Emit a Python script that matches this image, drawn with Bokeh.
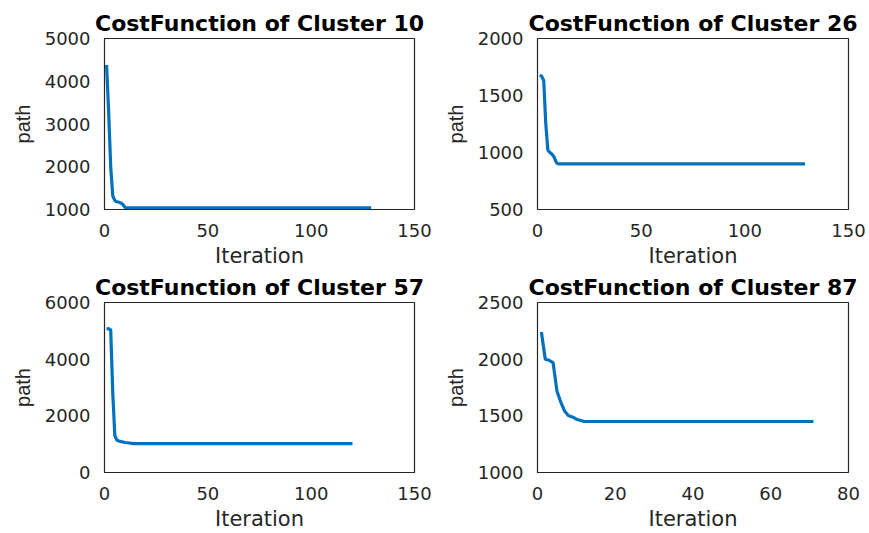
from bokeh.plotting import figure
from bokeh.layouts import gridplot
from bokeh.models import Range1d, FixedTicker
from bokeh.embed import file_html
from bokeh.resources import INLINE

# ---- data ----
titles = ["CostFunction of Cluster 10", "CostFunction of Cluster 26",
          "CostFunction of Cluster 57", "CostFunction of Cluster 87"]

iter_c10 = [1, 2, 3, 4, 5, 6, 7, 8, 9, 10, 11, 129]
cost_c10 = [4380, 3300, 2000, 1320, 1210, 1180, 1170, 1150, 1110, 1045, 1040, 1040]

iter_c26 = [1, 2, 3, 4, 5, 6, 7, 8, 9, 10, 129]
cost_c26 = [1675, 1670, 1630, 1250, 1020, 1000, 985, 960, 915, 900, 900]

iter_c57 = [1, 2, 3, 4, 5, 6, 7, 8, 10, 12, 14, 120]
cost_c57 = [5080, 5070, 5040, 2800, 1300, 1140, 1110, 1090, 1060, 1040, 1020, 1020]

iter_c87 = [1, 2, 3, 4, 5, 6, 7, 8, 9, 10, 12, 71]
cost_c87 = [2240, 2000, 1990, 1970, 1720, 1620, 1540, 1500, 1490, 1470, 1450, 1450]

x_ticks_10 = [0, 50, 100, 150]
y_ticks_10 = [1000, 2000, 3000, 4000, 5000]
x_ticks_26 = [0, 50, 100, 150]
y_ticks_26 = [500, 1000, 1500, 2000]
x_ticks_57 = [0, 50, 100, 150]
y_ticks_57 = [0, 2000, 4000, 6000]
x_ticks_87 = [0, 20, 40, 60, 80]
y_ticks_87 = [1000, 1500, 2000, 2500]

LINE = "#0072BD"
TXT = "#262626"


def panel(title, xs, ys, xt, yt, width, height, left, right, top, bottom):
    p = figure(width=width, height=height, output_backend="svg",
               toolbar_location=None,
               x_range=Range1d(xt[0], xt[-1]), y_range=Range1d(yt[0], yt[-1]),
               min_border_left=left, min_border_right=right,
               min_border_top=top, min_border_bottom=bottom)
    p.line(xs, ys, line_color=LINE, line_width=3.2)
    p.title.text = title
    p.title.align = "center"
    p.title.text_font = "DejaVu Sans"
    p.title.text_font_size = "22px"
    p.title.text_font_style = "bold"
    p.title.text_color = "black"
    p.title.standoff = 5
    p.xgrid.visible = False
    p.ygrid.visible = False
    p.outline_line_color = TXT
    p.outline_line_width = 1.2
    p.outline_line_alpha = 1
    p.xaxis.ticker = FixedTicker(ticks=xt)
    p.yaxis.ticker = FixedTicker(ticks=yt)
    for ax in (p.xaxis[0], p.yaxis[0]):
        ax.major_tick_line_color = None
        ax.minor_tick_line_color = None
        ax.axis_line_color = TXT
        ax.major_label_text_font = "DejaVu Sans"
        ax.major_label_text_font_size = "18px"
        ax.major_label_text_color = TXT
        ax.major_label_standoff = 8
        ax.axis_label_text_color = TXT
        ax.axis_label_text_font_style = "normal"
    p.xaxis.axis_label = "Iteration"
    p.xaxis.axis_label_text_font = "DejaVu Sans"
    p.xaxis.axis_label_text_font_size = "21px"
    p.xaxis.axis_label_standoff = 4
    p.yaxis.axis_label = "path"
    p.yaxis.axis_label_text_font = "Liberation Sans"
    p.yaxis.axis_label_text_font_size = "20px"
    p.yaxis.axis_label_standoff = 8
    p.yaxis.major_label_orientation = "horizontal"
    p.background_fill_color = "white"
    p.border_fill_color = "white"
    return p


p1 = panel(titles[0], iter_c10, cost_c10, x_ticks_10, y_ticks_10, 434, 270, 104, 20, 38, 60)
p2 = panel(titles[1], iter_c26, cost_c26, x_ticks_26, y_ticks_26, 435, 270, 103, 21, 38, 60)
p3 = panel(titles[2], iter_c57, cost_c57, x_ticks_57, y_ticks_57, 434, 263, 104, 20, 32, 59)
p4 = panel(titles[3], iter_c87, cost_c87, x_ticks_87, y_ticks_87, 435, 263, 103, 21, 32, 59)

grid = gridplot([[p1, p2], [p3, p4]], toolbar_location=None)

open("out.html", "w").write(file_html(grid, INLINE))
